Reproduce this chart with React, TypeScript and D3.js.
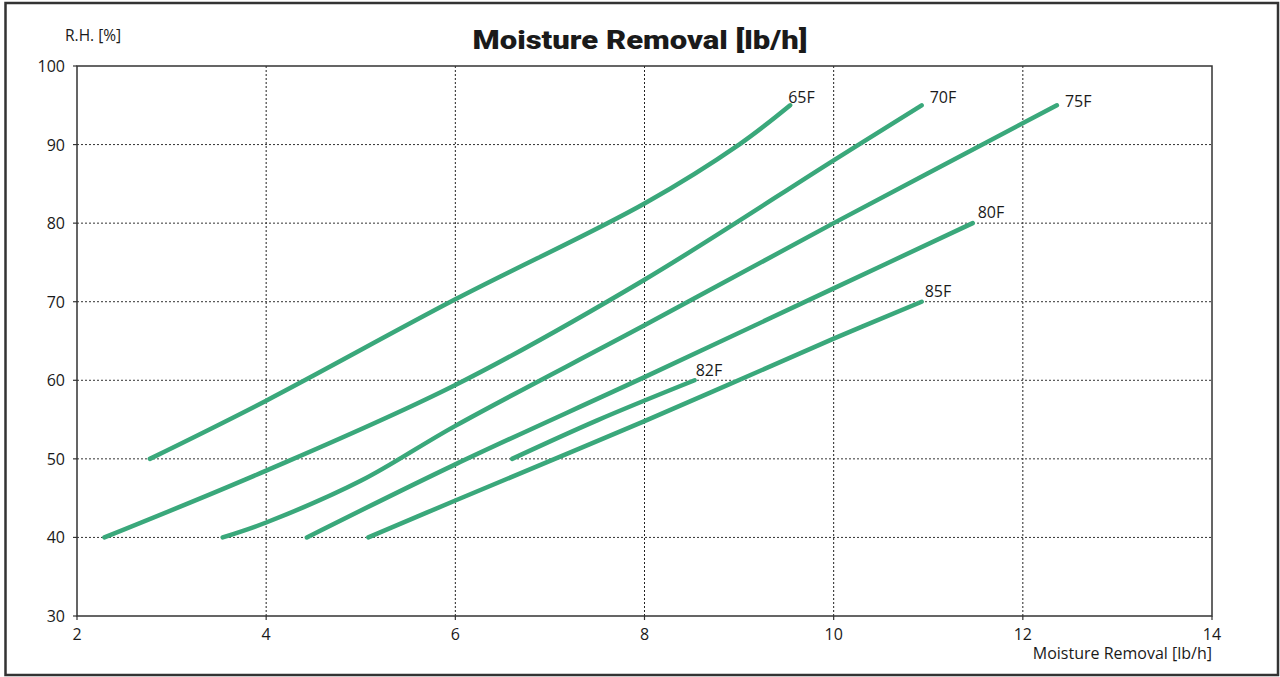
import React from "react";
import * as d3 from "d3";

type Pt = [number, number];

const xTicks = [2, 4, 6, 8, 10, 12, 14];
const yTicks = [30, 40, 50, 60, 70, 80, 90, 100];

const seriesNames = ["65F", "70F", "75F", "80F", "82F", "85F"];

const s65: Pt[] = [[2.77, 50], [4, 57.4], [6, 70.3], [8, 82.5], [9, 90], [9.54, 95]];
const s70: Pt[] = [[2.29, 40], [4, 48.5], [6, 59.4], [8, 72.8], [10, 88], [10.93, 95]];
const s75: Pt[] = [[3.54, 40], [4, 41.9], [5, 47.2], [6, 54.2], [8, 67.0], [10, 80.0], [12.36, 95]];
const s80: Pt[] = [[4.43, 40], [6, 49.3], [8, 60.4], [10, 71.7], [11.47, 80]];
const s82: Pt[] = [[6.6, 50], [7.5, 54.9], [8.53, 60]];
const s85: Pt[] = [[5.08, 40], [6, 44.7], [8, 54.8], [10, 65.3], [10.93, 70]];

const seriesData: Pt[][] = [s65, s70, s75, s80, s82, s85];
// label offsets (px) relative to series end point
const labelDx = [-2, 8, 8, 5, 1, 3];
const labelDy = [-2, -2, 2, -5, -4, -5];

const W = 1280;
const H = 677;
const M = { left: 77, top: 66, right: 1212, bottom: 616 };

export default function App() {
  const x = d3.scaleLinear().domain([2, 14]).range([M.left, M.right]);
  const y = d3.scaleLinear().domain([30, 100]).range([M.bottom, M.top]);
  const line = d3
    .line<Pt>()
    .x((d) => x(d[0]))
    .y((d) => y(d[1]))
    .curve(d3.curveCatmullRom.alpha(0.5));

  const font = "'Open Sans', 'Noto Sans', sans-serif";
  const green = "#3aa87b";

  return (
    <div style={{ position: "fixed", left: 0, top: 0, width: W, height: H, background: "#fff" }}>
      <svg width={W} height={H} style={{ display: "block" }}>
        <rect x={0} y={0} width={W} height={H} fill="#fff" />
        <rect x={5.5} y={3} width={1272.5} height={672} fill="none" stroke="#333" strokeWidth={2.5} />

        {/* grid */}
        {xTicks.slice(1, -1).map((t) => (
          <line key={"gx" + t} x1={x(t)} x2={x(t)} y1={M.top} y2={M.bottom} stroke="#222" strokeWidth={1} strokeDasharray="2,2" />
        ))}
        {yTicks.slice(1, -1).map((t) => (
          <line key={"gy" + t} x1={M.left} x2={M.right} y1={y(t)} y2={y(t)} stroke="#333" strokeWidth={1} strokeDasharray="2,2" />
        ))}

        {/* frame */}
        <rect x={M.left} y={M.top} width={M.right - M.left} height={M.bottom - M.top} fill="none" stroke="#333" strokeWidth={1.5} />

        {/* ticks */}
        {xTicks.map((t) => (
          <g key={"tx" + t}>
            <line x1={x(t)} x2={x(t)} y1={M.bottom} y2={M.bottom + 4} stroke="#333" strokeWidth={1.2} />
            <text x={x(t)} y={639.5} textAnchor="middle" fontFamily={font} fontSize={16} fill="#1a1a1a">
              {t}
            </text>
          </g>
        ))}
        {yTicks.map((t) => (
          <g key={"ty" + t}>
            <line x1={M.left - 4} x2={M.left} y1={y(t)} y2={y(t)} stroke="#333" strokeWidth={1.2} />
            <text x={65} y={y(t) + 6} textAnchor="end" fontFamily={font} fontSize={16} fill="#1a1a1a">
              {t}
            </text>
          </g>
        ))}

        {/* series */}
        {seriesData.map((d, i) => (
          <path key={"s" + i} d={line(d) || ""} fill="none" stroke={green} strokeWidth={4.5} strokeLinecap="round" strokeLinejoin="round" />
        ))}
        {seriesData.map((d, i) => {
          const last = d[d.length - 1];
          return (
            <text key={"l" + i} x={x(last[0]) + labelDx[i]} y={y(last[1]) + labelDy[i]} fontFamily={font} fontSize={16} fill="#1a1a1a">
              {seriesNames[i]}
            </text>
          );
        })}

        {/* titles */}
        <text x={640} y={49} textAnchor="middle" fontFamily="Roboto, 'Liberation Sans', sans-serif" fontWeight={900} fontSize={25} fill="#1a1a1a" textLength={335} lengthAdjust="spacingAndGlyphs">
          Moisture Removal [lb/h]
        </text>
        <text x={65} y={41} fontFamily={font} fontSize={15.5} fill="#1a1a1a">
          R.H. [%]
        </text>
        <text x={1212} y={659} textAnchor="end" fontFamily={font} fontSize={16} fill="#1a1a1a">
          Moisture Removal [lb/h]
        </text>
      </svg>
    </div>
  );
}
